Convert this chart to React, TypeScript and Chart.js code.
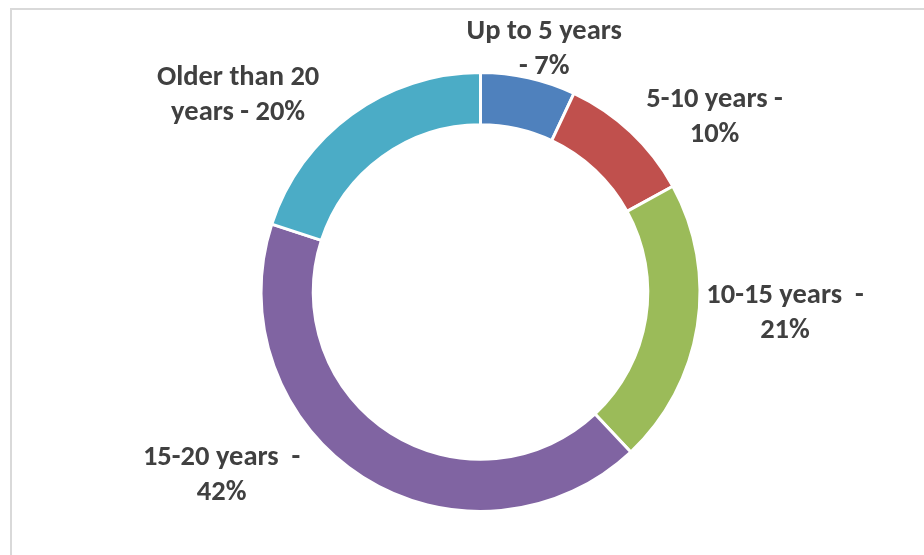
import React, { useEffect, useRef } from "react";
import { Chart, registerables } from "chart.js";

Chart.register(...registerables);

const categories = ["Up to 5 years", "5-10 years", "10-15 years", "15-20 years", "Older than 20 years"];
const values = [7, 10, 21, 42, 20];
const colors = ["#4F81BD", "#C0504D", "#9BBB59", "#8064A2", "#4BACC6"];
const labelFirstLines = ["Up to 5 years", "5-10 years -", "10-15 years  -", "15-20 years  -", "Older than 20"];
const labelSecondPrefix = ["- ", "", "", "", "years - "];

// label layout: angle (deg, clockwise from top) and distance from the doughnut centre, relative to outer radius
const labelAngles = [14.6, 53.0, 93.6, 235.0, 309.3];
const labelDistances = [1.152, 1.335, 1.39, 1.44, 1.427];

const labelPlugin = {
  id: "outsideLabels",
  afterDraw(chart: any) {
    const meta = chart.getDatasetMeta(0);
    const ctx = chart.ctx;
    ctx.save();
    ctx.font = "bold 28.5px Carlito, Lato, sans-serif";
    ctx.fillStyle = "#404040";
    ctx.textAlign = "center";
    ctx.textBaseline = "middle";
    meta.data.forEach((arc: any, i: number) => {
      const { x, y, outerRadius } = arc.getProps(["x", "y", "outerRadius"], true);
      const a = (labelAngles[i] * Math.PI) / 180;
      const d = labelDistances[i] * outerRadius;
      const cx = x + Math.sin(a) * d;
      const cy = y - Math.cos(a) * d + 2;
      const lines = [labelFirstLines[i], `${labelSecondPrefix[i]}${values[i]}%`];
      const lh = 35;
      lines.forEach((t, j) => {
        ctx.fillText(t, cx, cy + (j - (lines.length - 1) / 2) * lh);
      });
    });
    ctx.restore();
  },
};

export default function App() {
  const ref = useRef<HTMLCanvasElement | null>(null);
  useEffect(() => {
    document.body.style.margin = "0";
    const chart = new Chart(ref.current as HTMLCanvasElement, {
      type: "doughnut",
      data: {
        labels: categories,
        datasets: [
          {
            data: values,
            backgroundColor: colors,
            borderColor: "#FFFFFF",
            borderWidth: 3,
            hoverOffset: 0,
          },
        ],
      },
      options: {
        responsive: false,
        animation: false,
        radius: 219.5,
        cutout: 165,
        layout: { padding: { left: 262, right: 225, top: 74, bottom: 45 } },
        plugins: {
          legend: { display: false },
          tooltip: { enabled: false },
        },
        events: [],
      },
      plugins: [labelPlugin],
    });
    return () => chart.destroy();
  }, []);
  return (
    <div style={{ position: "relative", width: 924, height: 555, background: "#fff", overflow: "hidden" }}>
      <div
        style={{
          position: "absolute",
          left: 10,
          top: 8,
          width: 940,
          height: 580,
          borderLeft: "2px solid #D9D9D9",
          borderTop: "2px solid #D9D9D9",
        }}
      />
      <canvas ref={ref} width={924} height={555} style={{ position: "absolute", left: 0, top: 0, width: 924, height: 555 }} />
    </div>
  );
}
